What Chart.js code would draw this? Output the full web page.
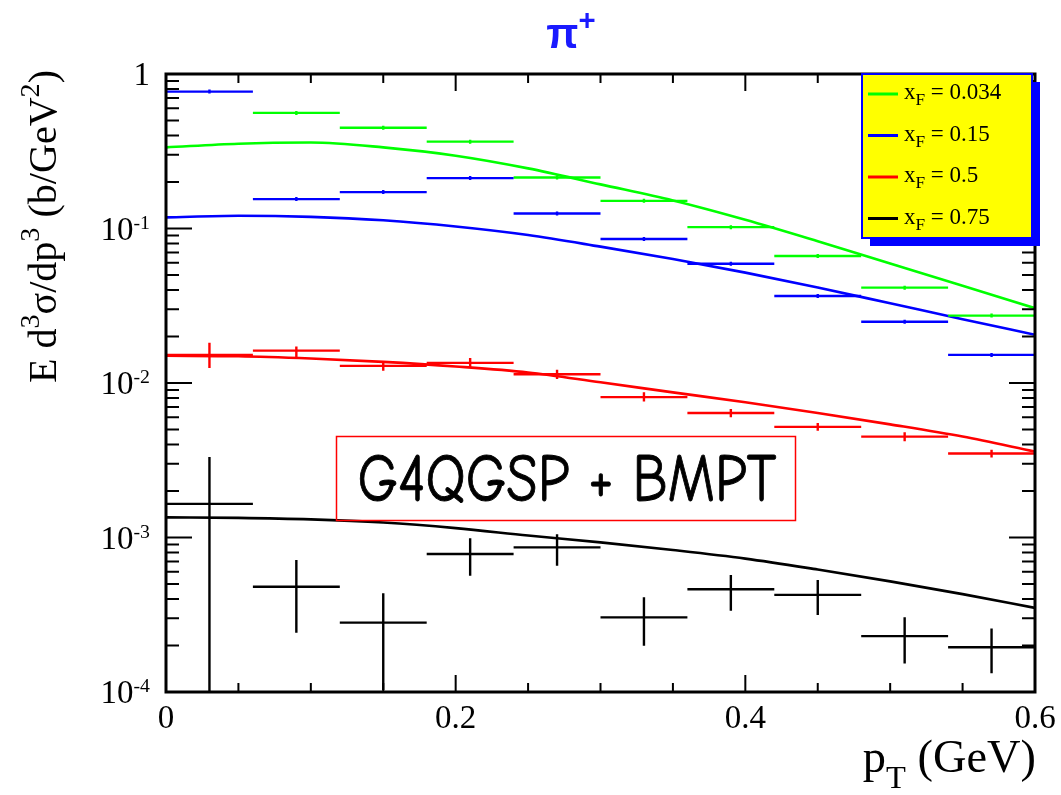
<!DOCTYPE html>
<html>
<head>
<meta charset="utf-8">
<script src="https://cdn.jsdelivr.net/npm/chart.js@4.4.0/dist/chart.umd.min.js"></script>
<style>
  body { margin: 0; background: #fff; }
  canvas { display: block; }
</style>
</head>
<body>
<canvas id="myChart" width="1061" height="795"></canvas>
<script>
// measured bins (pT centres, half width 0.03 GeV)
const binCenters = [0.03, 0.09, 0.15, 0.21, 0.27, 0.33, 0.39, 0.45, 0.51, 0.57];
const binHalf = 0.03;

const dataGreen = [null, 0.56, 0.449, 0.365, 0.214, 0.151, 0.102, 0.0664, 0.0414, 0.0273];
const dataBlue = [0.769, 0.155, 0.172, 0.212, 0.125, 0.0855, 0.0592, 0.0366, 0.0249, 0.0152];
const dataRed = [0.0152, 0.0162, 0.0129, 0.0135, 0.0114, 0.0081, 0.0064, 0.0052, 0.0045, 0.0035];
const dataRedLo = [0.0125, 0.0147, 0.0120, 0.0125, 0.0106, 0.0076, 0.0060, 0.0049, 0.0042, 0.0033];
const dataRedHi = [0.0182, 0.0172, 0.0139, 0.0145, 0.0122, 0.0087, 0.0068, 0.0055, 0.0048, 0.0037];
const dataBlack = [0.00165, 4.8e-4, 2.81e-4, 7.82e-4, 8.63e-4, 3.04e-4, 4.62e-4, 4.25e-4, 2.3e-4, 1.95e-4];
const dataBlackLo = [1e-5, 2.42e-4, 1.03e-4, 5.66e-4, 6.57e-4, 1.99e-4, 3.36e-4, 3.15e-4, 1.53e-4, 1.32e-4];
const dataBlackHi = [3.32e-3, 7.15e-4, 4.35e-4, 9.88e-4, 1.05e-3, 4.10e-4, 5.72e-4, 5.31e-4, 3.05e-4, 2.58e-4];

// model curves (G4QGSP + BMPT)
const curveX = [0, 0.05, 0.1, 0.15, 0.2, 0.25, 0.3, 0.35, 0.4, 0.45, 0.5, 0.55, 0.6];
const curveGreen = [0.335, 0.354, 0.360, 0.335, 0.296, 0.245, 0.193, 0.152, 0.114, 0.0828, 0.0594, 0.0426, 0.0305];
const curveBlue = [0.118, 0.121, 0.119, 0.113, 0.103, 0.0907, 0.0763, 0.0635, 0.0518, 0.0415, 0.0328, 0.0259, 0.0205];
const curveRed = [0.0150, 0.0149, 0.0144, 0.0137, 0.0128, 0.0117, 0.0101, 0.0087, 0.0075, 0.0064, 0.0054, 0.0045, 0.0036];
const curveBlack = [0.00135, 0.00134, 0.00131, 0.00125, 0.00115, 0.00103, 0.00093, 0.00083, 0.00073, 0.00062, 0.00052, 0.00043, 0.00035];

const seriesLabels = ['0.034', '0.15', '0.5', '0.75'];
const seriesColors = ['#00ff00', '#0000ff', '#ff0000', '#000000'];

const xTickValues = [0, 0.2, 0.4, 0.6];
const xTickLabels = ['0', '0.2', '0.4', '0.6'];
const yTickExps = [0, -1, -2, -3, -4];

const SERIF = '"Liberation Serif", "Times New Roman", serif';

function xy(xs, ys) {
  return xs.map((x, i) => ({ x: x, y: ys[i] }));
}

function curveSet(ys, color) {
  return {
    data: xy(curveX, ys),
    showLine: true,
    borderColor: color,
    borderWidth: 2.6,
    pointRadius: 0,
    tension: 0.4,
    cubicInterpolationMode: 'monotone'
  };
}

function binSet(ys, lo, hi, color) {
  return {
    data: xy(binCenters, ys),
    showLine: false,
    pointRadius: 0,
    borderColor: color,
    bins: true,
    errLo: lo,
    errHi: hi
  };
}

// text with super/subscripts: parts = [[text, mode]] mode 1 sup, -1 sub
function richText(ctx, parts, x, y, size, opt, draw) {
  opt = opt || {};
  const family = opt.family || SERIF;
  const weight = opt.weight || '';
  const ratio = opt.ratio || 0.7;
  const supDy = opt.supDy !== undefined ? opt.supDy : -0.42;
  const subDy = opt.subDy !== undefined ? opt.subDy : 0.28;
  const fonts = parts.map(p => weight + ' ' + (size * (p[1] ? ratio : 1)).toFixed(1) + 'px ' + family);
  const widths = parts.map((p, i) => { ctx.font = fonts[i]; return ctx.measureText(p[0]).width; });
  const total = widths.reduce((a, b) => a + b, 0);
  if (!draw) return total;
  let cx = opt.align === 'right' ? x - total : opt.align === 'center' ? x - total / 2 : x;
  ctx.textAlign = 'left';
  ctx.textBaseline = 'alphabetic';
  parts.forEach((p, i) => {
    ctx.font = fonts[i];
    const dy = p[1] === 1 ? supDy * size : p[1] === -1 ? subDy * size : 0;
    ctx.fillText(p[0], cx, y + dy);
    cx += widths[i];
  });
  return total;
}

function fitSize(ctx, parts, width, opt) {
  return 100 * width / richText(ctx, parts, 0, 0, 100, opt, false);
}

const rootPlugin = {
  id: 'rootStyle',
  afterDatasetsDraw(chart) {
    const ctx = chart.ctx;
    const xs = chart.scales.x, ys = chart.scales.y;
    const area = chart.chartArea;

    // binned data with error bars
    ctx.save();
    ctx.beginPath();
    ctx.rect(area.left, area.top, area.right - area.left, area.bottom - area.top);
    ctx.clip();
    chart.data.datasets.forEach(ds => {
      if (!ds.bins) return;
      ctx.strokeStyle = ds.borderColor;
      ctx.lineWidth = 2.4;
      ds.data.forEach((p, i) => {
        if (p.y === null) return;
        const py = ys.getPixelForValue(p.y);
        const px = xs.getPixelForValue(p.x);
        ctx.beginPath();
        ctx.moveTo(xs.getPixelForValue(p.x - binHalf), py);
        ctx.lineTo(xs.getPixelForValue(p.x + binHalf), py);
        if (ds.errLo) {
          ctx.moveTo(px, ys.getPixelForValue(ds.errLo[i]));
          ctx.lineTo(px, ys.getPixelForValue(ds.errHi[i]));
        } else {
          ctx.moveTo(px, py - 2);
          ctx.lineTo(px, py + 2);
        }
        ctx.stroke();
      });
    });
    ctx.restore();

    // model label box
    ctx.save();
    ctx.strokeStyle = '#ff0000';
    ctx.lineWidth = 1.5;
    ctx.strokeRect(336.5, 436.5, 459, 84);
    const boxParts = [['G4QGSP + BMPT', 0]];
    const boxOpt = { family: '"Comic Sans MS", "Comic Neue", "DejaVu Sans", cursive' };
    const bs = fitSize(ctx, boxParts, 419, boxOpt);
    ctx.fillStyle = '#000';
    ctx.strokeStyle = '#000';
    ctx.lineWidth = 0.8;
    boxOpt.align = 'center';
    ctx.translate(567, 501);
    ctx.scale(1, 1.2);
    richText(ctx, boxParts, 0, 0, bs, boxOpt, true);
    ctx.font = bs.toFixed(1) + 'px ' + boxOpt.family;
    ctx.textAlign = 'center';
    ctx.strokeText('G4QGSP + BMPT', 0, 0);
    ctx.restore();
  },
  afterDraw(chart) {
    const ctx = chart.ctx;
    const xs = chart.scales.x, ys = chart.scales.y;
    const a = chart.chartArea;
    ctx.save();
    ctx.strokeStyle = '#000';
    ctx.fillStyle = '#000';

    // frame
    ctx.lineWidth = 3;
    ctx.strokeRect(a.left, a.top, a.right - a.left, a.bottom - a.top);

    // x ticks every 0.05, major every 0.2
    ctx.lineWidth = 2;
    ctx.beginPath();
    for (let i = 0; i <= 12; i++) {
      const px = xs.getPixelForValue(i * 0.05);
      const len = i % 4 === 0 ? 17 : 9;
      ctx.moveTo(px, a.bottom); ctx.lineTo(px, a.bottom - len);
      ctx.moveTo(px, a.top); ctx.lineTo(px, a.top + len);
    }
    // y ticks: decades and 2..9 minors
    for (let d = -4; d <= 0; d++) {
      for (let k = 1; k <= 9; k++) {
        const v = k * Math.pow(10, d);
        if (v > 1.0001) break;
        const py = ys.getPixelForValue(v);
        const len = k === 1 ? 26 : 13;
        ctx.moveTo(a.left, py); ctx.lineTo(a.left + len, py);
        ctx.moveTo(a.right, py); ctx.lineTo(a.right - len, py);
      }
    }
    ctx.stroke();

    // tick labels
    const tsz = 33;
    xTickValues.forEach((v, i) => {
      richText(ctx, [[xTickLabels[i], 0]], xs.getPixelForValue(v), a.bottom + 36, tsz, { align: 'center' }, true);
    });
    yTickExps.forEach(e => {
      const py = ys.getPixelForValue(Math.pow(10, e));
      const parts = e === 0 ? [['1', 0]] : [['10', 0], [String(e), 1]];
      richText(ctx, parts, 150, py + 11, tsz, { align: 'right', ratio: 0.6, supDy: -0.33 }, true);
    });

    // axis titles
    const xt = [['p', 0], ['T', -1], [' (GeV)', 0]];
    const xsz = fitSize(ctx, xt, 173, { ratio: 0.7, subDy: 0.35 });
    richText(ctx, xt, 1036, 772, xsz, { align: 'right', ratio: 0.7, subDy: 0.35 }, true);

    const yt = [['E d', 0], ['3', 1], ['σ/dp', 0], ['3', 1], [' (b/GeV', 0], ['2', 1], [')', 0]];
    const ysz = fitSize(ctx, yt, 313, { ratio: 0.7 });
    ctx.save();
    ctx.translate(56, 70);
    ctx.rotate(-Math.PI / 2);
    richText(ctx, yt, 0, 0, ysz, { align: 'right', ratio: 0.7 }, true);
    ctx.restore();

    // title
    ctx.fillStyle = '#1a1aff';
    richText(ctx, [['π', 0], ['+', 1]], 571, 48, 42,
      { family: '"Liberation Sans", Arial, sans-serif', weight: 'bold', ratio: 0.7, supDy: -0.42, align: 'center' }, true);

    // legend box with shadow
    const lx = 862, ly = 74, lw = 170, lh = 164;
    ctx.fillStyle = '#0000ff';
    ctx.fillRect(lx + 8, ly + 8, lw, lh);
    ctx.fillStyle = '#ffff00';
    ctx.fillRect(lx, ly, lw, lh);
    ctx.strokeStyle = '#0000ff';
    ctx.lineWidth = 2;
    ctx.strokeRect(lx, ly, lw, lh);
    seriesLabels.forEach((lab, i) => {
      const yy = 94 + i * 41.5;
      ctx.strokeStyle = seriesColors[i];
      ctx.lineWidth = 3;
      ctx.beginPath();
      ctx.moveTo(868, yy); ctx.lineTo(898, yy);
      ctx.stroke();
      ctx.fillStyle = '#000';
      richText(ctx, [['x', 0], ['F', -1], [' = ' + lab, 0]], 904, yy + 5, 23, { ratio: 0.75, subDy: 0.28 }, true);
    });
    ctx.restore();
  }
};

const ctx = document.getElementById('myChart').getContext('2d');
const myChart = new Chart(ctx, {
  type: 'scatter',
  data: {
    datasets: [
      curveSet(curveGreen, seriesColors[0]),
      curveSet(curveBlue, seriesColors[1]),
      curveSet(curveRed, seriesColors[2]),
      curveSet(curveBlack, seriesColors[3]),
      binSet(dataGreen, null, null, seriesColors[0]),
      binSet(dataBlue, null, null, seriesColors[1]),
      binSet(dataRed, dataRedLo, dataRedHi, seriesColors[2]),
      binSet(dataBlack, dataBlackLo, dataBlackHi, seriesColors[3])
    ]
  },
  options: {
    responsive: false,
    animation: false,
    layout: { padding: { left: 166, top: 74, right: 26, bottom: 103 } },
    scales: {
      x: { type: 'linear', min: 0, max: 0.6, display: false },
      y: { type: 'logarithmic', min: 1e-4, max: 1, display: false }
    },
    plugins: {
      legend: { display: false },
      tooltip: { enabled: false }
    }
  },
  plugins: [rootPlugin]
});
</script>
</body>
</html>
